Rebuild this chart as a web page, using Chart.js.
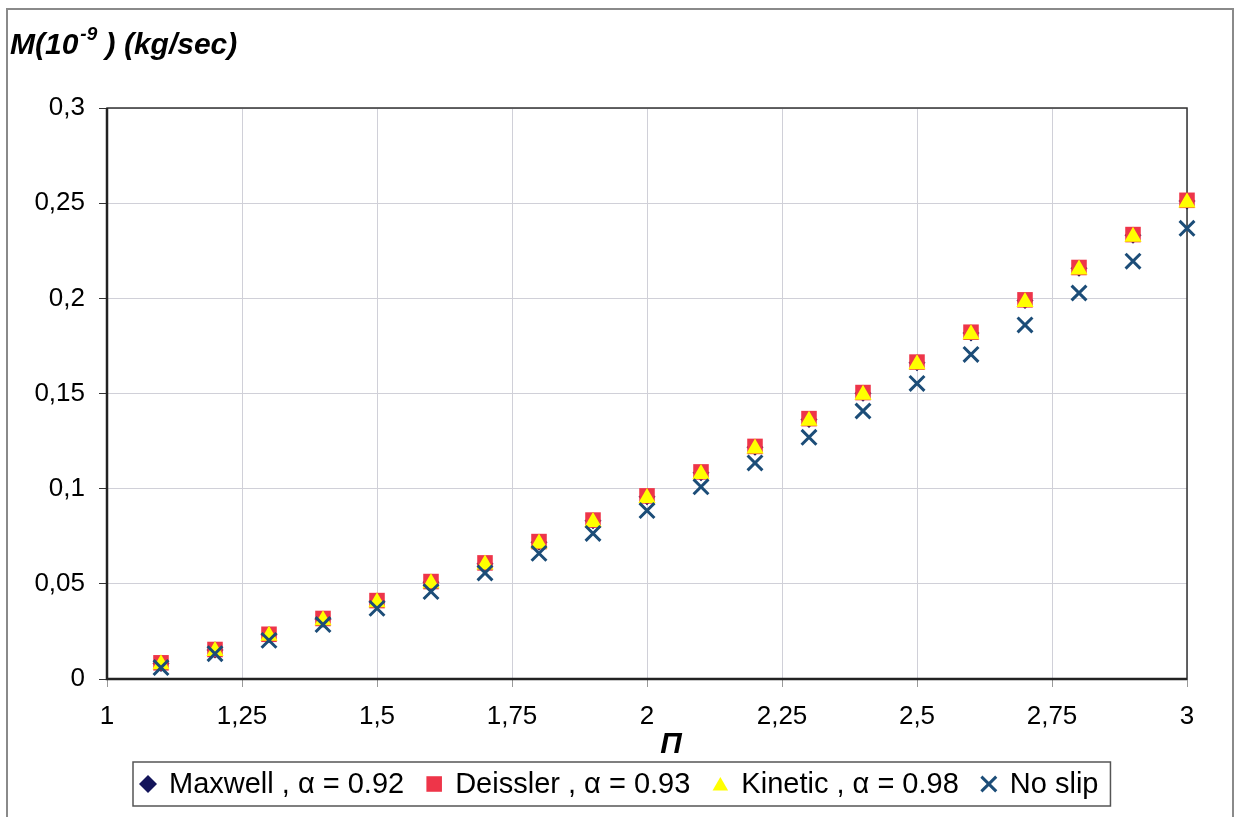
<!DOCTYPE html>
<html>
<head>
<meta charset="utf-8">
<script src="https://cdn.jsdelivr.net/npm/chart.js@4.4.0/dist/chart.umd.min.js"></script>
<style>
  html, body { margin: 0; padding: 0; background: #fff; }
  #wrap { width: 1237px; height: 817px; position: relative; }
</style>
</head>
<body>
<div id="wrap"><canvas id="myChart" width="1237" height="817"></canvas></div>
<script>
// values (M in 1e-9 kg/sec)
const piValues = [1.1, 1.2, 1.3, 1.4, 1.5, 1.6, 1.7, 1.8, 1.9, 2.0,
                  2.1, 2.2, 2.3, 2.4, 2.5, 2.6, 2.7, 2.8, 2.9, 3.0];
const maxwell  = [0.0082, 0.0152, 0.0232, 0.0314, 0.0408, 0.0508, 0.0606, 0.0718, 0.0831, 0.0958,
                  0.1084, 0.1218, 0.1364, 0.1501, 0.1661, 0.1818, 0.1988, 0.2158, 0.2331, 0.2511];
const deissler = [0.0085, 0.0155, 0.0235, 0.0318, 0.0412, 0.0512, 0.0610, 0.0722, 0.0835, 0.0962,
                  0.1088, 0.1222, 0.1368, 0.1505, 0.1665, 0.1822, 0.1992, 0.2162, 0.2335, 0.2515];
const kinetic  = [0.0078, 0.0147, 0.0227, 0.0309, 0.0403, 0.0503, 0.0601, 0.0712, 0.0825, 0.0951,
                  0.1077, 0.1211, 0.1357, 0.1494, 0.1654, 0.1811, 0.1981, 0.2151, 0.2324, 0.2503];
const noSlip   = [0.0060, 0.0133, 0.0203, 0.0286, 0.0371, 0.0459, 0.0557, 0.0660, 0.0765, 0.0885,
                  0.1010, 0.1135, 0.1270, 0.1408, 0.1553, 0.1705, 0.1860, 0.2028, 0.2195, 0.2368];

const seriesNames = ["Maxwell , α = 0.92", "Deissler , α = 0.93", "Kinetic , α = 0.98", "No slip"];

const xTicks = [1, 1.25, 1.5, 1.75, 2, 2.25, 2.5, 2.75, 3];
const xTickLabels = ["1", "1,25", "1,5", "1,75", "2", "2,25", "2,5", "2,75", "3"];
const yTicks = [0, 0.05, 0.1, 0.15, 0.2, 0.25, 0.3];
const yTickLabels = ["0", "0,05", "0,1", "0,15", "0,2", "0,25", "0,3"];

const FONT = '"Liberation Sans", Arial, sans-serif';

function toPoints(ys) {
  return piValues.map((x, i) => ({ x: x, y: ys[i] }));
}

const data = {
  datasets: [
    { label: seriesNames[0], data: toPoints(maxwell), pointStyle: 'rectRot', pointRadius: 8.5,
      backgroundColor: '#13145a', borderColor: '#13145a', borderWidth: 0, order: 4 },
    { label: seriesNames[1], data: toPoints(deissler), pointStyle: 'rect', pointRadius: 11,
      backgroundColor: '#ee3549', borderColor: '#ee3549', borderWidth: 0, order: 3 },
    { label: seriesNames[2], data: toPoints(kinetic), pointStyle: 'triangle', pointRadius: 10,
      backgroundColor: '#ffff00', borderColor: '#ffff00', borderWidth: 0, order: 2 },
    { label: seriesNames[3], data: toPoints(noSlip), pointStyle: 'crossRot', pointRadius: 10.5,
      backgroundColor: '#1c4d78', borderColor: '#1c4d78', borderWidth: 3, order: 1 }
  ]
};

// frame, titles and the boxed legend
const decor = {
  id: 'decor',
  beforeDatasetsDraw(chart) {
    const a = chart.chartArea;
    const ctx = chart.ctx;
    ctx.save();
    ctx.strokeStyle = '#333';
    ctx.lineWidth = 1.5;
    ctx.strokeRect(a.left, a.top, a.right - a.left, a.bottom - a.top);
    ctx.lineWidth = 2.5;
    ctx.strokeStyle = '#222';
    ctx.beginPath();
    ctx.moveTo(a.left, a.top);
    ctx.lineTo(a.left, a.bottom);
    ctx.lineTo(a.right, a.bottom);
    ctx.stroke();
    ctx.restore();
  },
  afterDraw(chart) {
    const ctx = chart.ctx;
    ctx.save();

    // outer frame of the picture
    ctx.strokeStyle = '#8a8a8a';
    ctx.lineWidth = 2;
    ctx.strokeRect(7, 9, 1226, 830);

    // y title  M(10^-9) (kg/sec)
    ctx.fillStyle = '#000';
    ctx.textBaseline = 'alphabetic';
    ctx.textAlign = 'left';
    let x = 10;
    const base = 54;
    ctx.font = 'italic bold 30px ' + FONT;
    ctx.fillText('M(10', x, base);
    x += ctx.measureText('M(10').width + 2;
    ctx.font = 'italic bold 19px ' + FONT;
    ctx.fillText('-9', x, base - 14);
    x += ctx.measureText('-9').width;
    ctx.font = 'italic bold 30px ' + FONT;
    ctx.fillText(' ) (kg/sec)', x, base);

    // x title
    ctx.textAlign = 'center';
    ctx.textBaseline = 'middle';
    ctx.font = 'italic bold 30px ' + FONT;
    ctx.fillText('Π', 671, 745);

    // legend
    ctx.font = '29px ' + FONT;
    const items = chart.data.datasets.map(ds => ({ ds: ds, w: ctx.measureText(ds.label).width }));
    const markW = 16, gapMT = 13, gapItem = 22, padL = 7, padR = 12;
    let total = padL + padR + gapItem * (items.length - 1);
    items.forEach(it => { total += markW + gapMT + it.w; });
    const boxTop = 762, boxH = 44;
    let left = Math.round(622 - total / 2);
    ctx.fillStyle = '#fff';
    ctx.fillRect(left, boxTop, total, boxH);
    ctx.strokeStyle = '#555';
    ctx.lineWidth = 1.5;
    ctx.strokeRect(left, boxTop, total, boxH);
    const cy = boxTop + boxH / 2;
    x = left + padL;
    items.forEach(it => {
      const ds = it.ds;
      ctx.fillStyle = ds.backgroundColor;
      ctx.strokeStyle = ds.borderColor;
      ctx.lineWidth = ds.borderWidth;
      const r = ds.pointStyle === 'rectRot' ? 9 : ds.pointStyle === 'triangle' ? 9 : ds.pointRadius;
      Chart.helpers.drawPoint(ctx, { pointStyle: ds.pointStyle, radius: r, rotation: 0,
        borderWidth: ds.borderWidth }, x + markW / 2, ds.pointStyle === 'triangle' ? cy + 2 : cy);
      x += markW + gapMT;
      ctx.fillStyle = '#000';
      ctx.textAlign = 'left';
      ctx.textBaseline = 'middle';
      ctx.fillText(ds.label, x, cy + 1);
      x += it.w + gapItem;
    });
    ctx.restore();
  }
};

const config = {
  type: 'scatter',
  data: data,
  options: {
    responsive: false,
    animation: false,
    devicePixelRatio: 1,
    clip: false,
    layout: { padding: { left: 0, right: 50, top: 108, bottom: 0 } },
    plugins: {
      legend: { display: false },
      tooltip: { enabled: false }
    },
    scales: {
      x: {
        type: 'linear',
        min: 1, max: 3,
        afterBuildTicks: s => { s.ticks = xTicks.map(v => ({ value: v })); },
        afterFit: s => { s.height = 138; },
        border: { display: false },
        grid: { color: '#d0d0d8', lineWidth: 1, tickLength: 8, tickColor: '#9a9a9a' },
        ticks: {
          autoSkip: false, maxRotation: 0, padding: 14, color: '#000',
          font: { family: FONT, size: 26 },
          callback: (v, i) => xTickLabels[i]
        }
      },
      y: {
        min: 0, max: 0.3,
        afterBuildTicks: s => { s.ticks = yTicks.map(v => ({ value: v })); },
        afterFit: s => { s.width = 107; },
        border: { display: false },
        grid: { color: '#d0d0d8', lineWidth: 1, tickLength: 8, tickColor: '#333' },
        ticks: {
          padding: 14, color: '#000',
          font: { family: FONT, size: 26 },
          callback: (v, i) => yTickLabels[i]
        }
      }
    }
  },
  plugins: [decor]
};

const myChart = new Chart(document.getElementById('myChart'), config);
</script>
</body>
</html>
